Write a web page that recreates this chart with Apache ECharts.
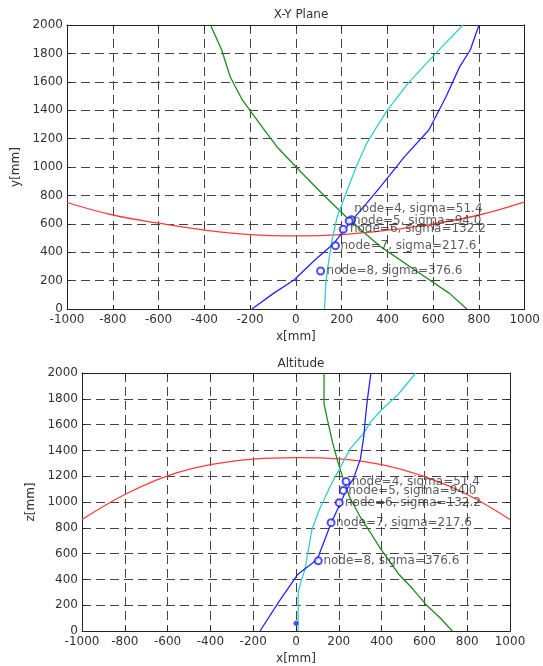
<!DOCTYPE html>
<html>
<head>
<meta charset="utf-8">
<script src="https://cdn.jsdelivr.net/npm/echarts@6/dist/echarts.min.js"></script>
<style>
  html, body { margin: 0; padding: 0; background: #fff; }
  #chart { width: 543px; height: 666px; }
</style>
</head>
<body>
<div id="chart"></div>
<script>
// tick values shared by both plots
var xTicks = [-1000, -800, -600, -400, -200, 0, 200, 400, 600, 800, 1000];
var yTicks = [0, 200, 400, 600, 800, 1000, 1200, 1400, 1600, 1800, 2000];

// node info
var nodes = [4, 5, 6, 7, 8];
var sigmas = [51.4, 94.0, 132.2, 217.6, 376.6];

/* X-Y plane curves */
var xyRedX = [-1000, -800, -600, -400, -200, 0, 200, 400, 600, 800, 1000];
var xyRedY = [750, 662, 605, 556, 524, 515, 524, 555, 600, 662, 755];
var xyGreenX = [-373, -324, -287, -234, -143, -83, 0, 113, 219, 370, 520, 671, 747];
var xyGreenY = [2000, 1824, 1636, 1472, 1272, 1143, 1002, 815, 650, 439, 275, 110, 0];
var xyCyanX = [125, 131, 140, 158, 181, 219, 264, 309, 354, 400, 490, 611, 730];
var xyCyanY = [0, 181, 298, 486, 650, 815, 1002, 1167, 1284, 1401, 1589, 1800, 2000];
var xyBlueX = [-192, -98, -8, 83, 166, 234, 309, 370, 475, 581, 656, 716, 762, 800];
var xyBlueY = [0, 110, 204, 345, 462, 603, 744, 862, 1073, 1261, 1495, 1707, 1824, 2000];
// circles and text anchors
var xyNodeX = [243, 233, 207, 173, 108];
var xyNodeY = [628, 620, 561, 446, 268];
var xyTextX = [255, 250, 236, 195, 134];
var xyTextY = [704, 620, 561, 446, 268];

/* Altitude curves */
var zRedX = [-1000, -800, -600, -400, -200, 0, 200, 400, 600, 800, 1000];
var zRedY = [864, 1058, 1203, 1289, 1332, 1344, 1334, 1289, 1196, 1058, 864];
var zGreenX = [131, 131, 147, 171, 196, 220, 252, 301, 350, 398, 479, 544, 608, 673, 730];
var zGreenY = [2000, 1761, 1636, 1460, 1309, 1183, 1033, 882, 756, 631, 442, 329, 204, 103, 0];
var zCyanX = [10, 10, 23, 42, 74, 107, 163, 212, 252, 317, 350, 398, 479, 560];
var zCyanY = [0, 304, 379, 480, 781, 932, 1133, 1284, 1410, 1535, 1623, 1711, 1837, 2000];
var zBlueX = [-168, -79, 10, 99, 163, 212, 236, 269, 301, 317, 325, 333, 350];
var zBlueY = [0, 229, 442, 555, 832, 1008, 1095, 1183, 1334, 1510, 1661, 1786, 2000];
var zNodeX = [234, 221, 202, 164, 104];
var zNodeY = [1158, 1090, 995, 840, 544];
var zTextX = [260, 244, 229, 187, 128];
var zTextY = [1158, 1090, 995, 840, 544];
var zDotX = [0];
var zDotY = [60];

function pairs(xs, ys) {
    return xs.map(function (x, i) { return [x, ys[i]]; });
}

var font = 'DejaVu Sans, sans-serif';
var txt = '#333';
var plain = function (v) { return String(v); };

function xAx(gi, pos, main) {
    return {
        type: 'value', gridIndex: gi, position: pos,
        min: xTicks[0], max: xTicks[xTicks.length - 1], interval: 200,
        name: main ? 'x[mm]' : '', nameLocation: 'middle', nameGap: 22,
        nameTextStyle: { color: txt, fontSize: 12, fontFamily: font },
        axisLine: { onZero: false, lineStyle: { color: '#222' } },
        axisTick: { inside: true, length: 4, lineStyle: { color: '#222' } },
        axisLabel: { show: main, color: txt, fontSize: 12, fontFamily: font, margin: 5, formatter: plain },
        splitLine: { show: main, lineStyle: { color: '#444', type: [9, 5], width: 1 } }
    };
}
function yAx(gi, name, gap, pos, main) {
    return {
        type: 'value', gridIndex: gi, position: pos,
        min: yTicks[0], max: yTicks[yTicks.length - 1], interval: 200,
        name: main ? name : '', nameLocation: 'middle', nameGap: gap,
        nameTextStyle: { color: txt, fontSize: 12, fontFamily: font },
        axisLine: { onZero: false, lineStyle: { color: '#222' } },
        axisTick: { inside: true, length: 4, lineStyle: { color: '#222' } },
        axisLabel: { show: main, color: txt, fontSize: 12, fontFamily: font, margin: 4, formatter: plain },
        splitLine: { show: main, lineStyle: { color: '#444', type: [9, 5], width: 1 } }
    };
}

function line(gi, xs, ys, color, smooth) {
    return {
        type: 'line', xAxisIndex: gi, yAxisIndex: gi,
        data: pairs(xs, ys), showSymbol: false, smooth: smooth || false,
        lineStyle: { color: color, width: 1.3 }, silent: true
    };
}
function circles(gi, xs, ys) {
    return {
        type: 'scatter', xAxisIndex: gi, yAxisIndex: gi,
        data: pairs(xs, ys), symbol: 'emptyCircle', symbolSize: 7,
        itemStyle: { color: '#2020ff', borderColor: '#2020ff', borderWidth: 1 }, z: 5
    };
}
function labels(gi, xs, ys) {
    return {
        type: 'scatter', xAxisIndex: gi, yAxisIndex: gi,
        data: pairs(xs, ys), symbolSize: 0, z: 6,
        label: {
            show: true, position: 'right', distance: 0,
            color: txt, fontSize: 12, fontFamily: font,
            formatter: function (p) {
                return 'node=' + nodes[p.dataIndex] + ', sigma=' + sigmas[p.dataIndex].toFixed(1);
            }
        }
    };
}

var myChart = echarts.init(document.getElementById('chart'));
var option = {
    animation: false,
    backgroundColor: '#fff',
    title: [
        { text: 'X-Y Plane', left: 296, top: 4, textAlign: 'center',
          textStyle: { fontSize: 12, fontWeight: 'normal', color: txt, fontFamily: font } },
        { text: 'Altitude', left: 296, top: 353, textAlign: 'center',
          textStyle: { fontSize: 12, fontWeight: 'normal', color: txt, fontFamily: font } }
    ],
    grid: [
        { left: 67, top: 25, width: 458, height: 284 },
        { left: 82, top: 373, width: 428, height: 266 }
    ],
    // axes 0,1 carry labels and grid; 2,3 only give the box its top/right ticks
    xAxis: [xAx(0, 'bottom', true), xAx(1, 'bottom', true), xAx(0, 'top', false), xAx(1, 'top', false)],
    yAxis: [yAx(0, 'y[mm]', 35, 'left', true), yAx(1, 'z[mm]', 33, 'left', true),
            yAx(0, '', 0, 'right', false), yAx(1, '', 0, 'right', false)],
    series: [
        line(0, xyRedX, xyRedY, '#ff3b3b', 0.4),
        line(0, xyGreenX, xyGreenY, '#1f8a1f'),
        line(0, xyCyanX, xyCyanY, '#35cccc'),
        line(0, xyBlueX, xyBlueY, '#2424ff'),
        circles(0, xyNodeX, xyNodeY),
        labels(0, xyTextX, xyTextY),
        line(1, zRedX, zRedY, '#ff3b3b', 0.4),
        line(1, zGreenX, zGreenY, '#1f8a1f'),
        line(1, zCyanX, zCyanY, '#35cccc'),
        line(1, zBlueX, zBlueY, '#2424ff'),
        circles(1, zNodeX, zNodeY),
        labels(1, zTextX, zTextY),
        {
            type: 'scatter', xAxisIndex: 1, yAxisIndex: 1,
            data: pairs(zDotX, zDotY), symbol: 'circle', symbolSize: 5,
            itemStyle: { color: '#2020ff' }, z: 5
        }
    ]
};
myChart.setOption(option);
</script>
</body>
</html>
